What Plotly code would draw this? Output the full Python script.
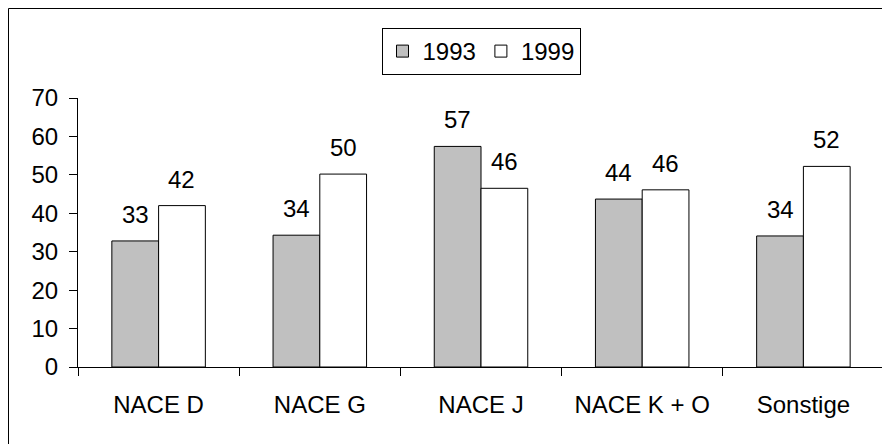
import plotly.graph_objects as go

categories = ["NACE D", "NACE G", "NACE J", "NACE K + O", "Sonstige"]
values_1993 = [32.8, 34.3, 57.4, 43.7, 34.1]
values_1999 = [42.0, 50.2, 46.5, 46.1, 52.2]
labels_1993 = ["33", "34", "57", "44", "34"]
labels_1999 = ["42", "50", "46", "46", "52"]
y_ticks = [0, 10, 20, 30, 40, 50, 60, 70]

FONT = "Liberation Sans, Arial, sans-serif"
FS = 24

W, H = 890, 444
ML, MR, MT, MB = 70, 14, 90, 85
BARGAP = 0.42
plot_w = W - ML - MR
plot_h = H - MT - MB
bar_w = plot_w / len(categories) * (1 - BARGAP) / 2

fig = go.Figure()
fig.add_trace(go.Bar(
    name="1993", x=categories, y=values_1993,
    marker=dict(color="#C0C0C0", line=dict(color="black", width=1)),
))
fig.add_trace(go.Bar(
    name="1999", x=categories, y=values_1999,
    marker=dict(color="white", line=dict(color="black", width=1)),
))

annotations = []
for vals, labs, sign in ((values_1993, labels_1993, -1), (values_1999, labels_1999, 1)):
    for c, v, t in zip(categories, vals, labs):
        annotations.append(dict(
            x=c, y=v, xref="x", yref="y", text=t, showarrow=False,
            xanchor="center", yanchor="bottom", xshift=sign * bar_w / 2, yshift=11,
            font=dict(size=FS, family=FONT, color="black"),
        ))

fig.update_layout(
    width=W, height=H,
    margin=dict(l=ML, r=MR, t=MT, b=MB),
    paper_bgcolor="white", plot_bgcolor="white",
    font=dict(family=FONT, size=FS, color="black"),
    barmode="group", bargap=BARGAP, bargroupgap=0,
    showlegend=True,
    legend=dict(
        orientation="h", x=0.5, xanchor="center", y=1 + 70 / plot_h, yanchor="top",
        bordercolor="black", borderwidth=1, bgcolor="white",
        font=dict(size=FS, family=FONT), traceorder="normal",
    ),
    xaxis=dict(
        showline=True, linecolor="black", linewidth=1,
        ticks="outside", ticklen=8, tickcolor="black", tickson="boundaries",
        ticklabelstandoff=16, showgrid=False,
    ),
    yaxis=dict(
        range=[0, 70], tickvals=y_ticks, showline=True, linecolor="black",
        linewidth=1, ticks="outside", ticklen=8, tickcolor="black",
        showgrid=False, zeroline=False, ticklabelstandoff=6,
    ),
    annotations=annotations,
    shapes=[dict(
        type="rect", xref="paper", yref="paper",
        x0=(0.5 - ML) / plot_w, x1=1.2, y0=-0.5, y1=1 + (MT - 0.5) / plot_h,
        line=dict(color="black", width=1), layer="below",
    )],
)

fig.write_html("out.html")
